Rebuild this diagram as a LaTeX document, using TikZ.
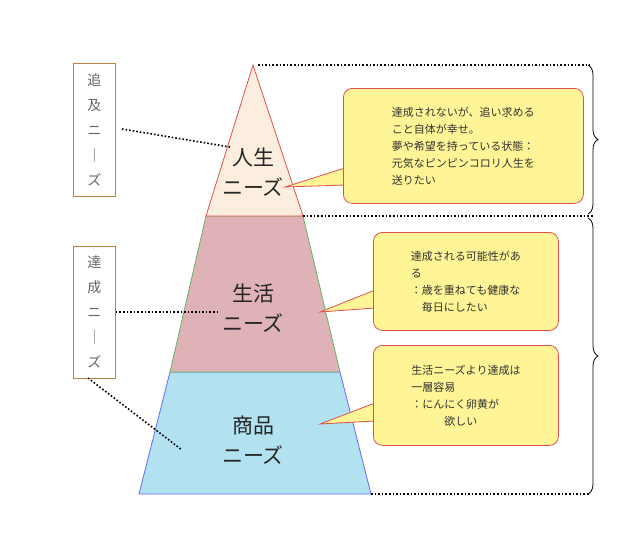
\documentclass[tikz,border=0pt]{standalone}
\usepackage{fontspec}
\setmainfont{Noto Sans CJK JP}
\usetikzlibrary{decorations.pathreplacing}
\definecolor{peach}{RGB}{252,238,222}
\definecolor{rose}{RGB}{222,178,182}
\definecolor{aqua}{RGB}{178,226,240}
\definecolor{note}{RGB}{255,244,150}
\definecolor{edge}{RGB}{222,80,80}
\definecolor{frame}{RGB}{185,130,60}
\tikzset{
  notebox/.style={draw=edge,fill=note,rounded corners=9pt,line width=0.8pt,
    inner sep=6pt,align=left,font=\fontsize{11}{17}\selectfont,anchor=north west,text=black!80},
  sidebox/.style={draw=frame,line width=0.8pt,minimum width=42pt,align=center,
    font=\fontsize{14}{25}\selectfont,text=black!60,anchor=north west,inner sep=0pt},
  layer/.style={font=\fontsize{21}{30}\selectfont,align=center,text=black!85},
  dots/.style={dotted,line width=1.6pt},
}
\begin{document}
\begin{tikzpicture}[x=1pt,y=-1pt]
  \useasboundingbox (0,0) rectangle (622,539);
  % pyramid
  \filldraw[fill=aqua,draw=blue!60,line width=0.8pt] (170,372) -- (139,494) -- (371,494) -- (340,372) -- cycle;
  \filldraw[fill=rose,draw=green!50!black!60,line width=0.8pt] (206,216) -- (170,372) -- (340,372) -- (303,216) -- cycle;
  \filldraw[fill=peach,draw=edge,line width=0.8pt] (253,65) -- (206,216) -- (303,216) -- cycle;
  \node[layer] (life) at (253,172) {人生\\ニーズ};
  \node[layer] (living) at (253,308) {生活\\ニーズ};
  \node[layer] (goods) at (253,440) {商品\\ニーズ};
  % side labels
  \node[sidebox,minimum height=133pt] (pursue) at (73,63) {追\\及\\ニ\\｜\\ズ};
  \node[sidebox,minimum height=132pt] (reach) at (73,246) {達\\成\\ニ\\｜\\ズ};
  \coordinate (p1) at (230,147);
  \coordinate (p2) at (218,312);
  \coordinate (p3) at (182,450);
  \draw[dots] (122,129) -- (p1);
  \draw[dots] (reach.east |- p2) -- (p2);
  \draw[dots] (88,378) -- (p3);
  % dotted guides
  \draw[dots] (258,65) -- (590,65);
  \draw[dots] (303,216) -- (593,216);
  \draw[dots] (371,494) -- (590,494);
  % braces
  \draw[line width=0.8pt,decorate,decoration={brace,amplitude=10pt,aspect=0.5}] (588,65) -- (588,214);
  \draw[line width=0.8pt,decorate,decoration={brace,amplitude=10pt,aspect=0.5}] (588,218) -- (588,494);
  % callouts
  \filldraw[fill=note,draw=edge,line width=0.8pt] (285,187) -- (345,168) -- (345,185) -- cycle;
  \node[notebox,minimum width=240pt,minimum height=115pt] (n1) at (343,88)
    {達成されないが、追い求める\\こと自体が幸せ。\\夢や希望を持っている状態：\\元気なピンピンコロリ人生を\\送りたい};
  \fill[note] (344,168.5) -- (344,184.5) -- (348,184.5) -- (348,168.5) -- cycle;
  \filldraw[fill=note,draw=edge,line width=0.8pt] (320,312) -- (375,290) -- (375,308) -- cycle;
  \node[notebox,minimum width=185pt,minimum height=98pt] (n2) at (373,232)
    {達成される可能性があ\\る\\：歳を重ねても健康な\\\quad 毎日にしたい};
  \fill[note] (374,290.5) -- (374,307.5) -- (378,307.5) -- (378,290.5) -- cycle;
  \filldraw[fill=note,draw=edge,line width=0.8pt] (320,424) -- (375,403) -- (375,421) -- cycle;
  \node[notebox,minimum width=185pt,minimum height=100pt] (n3) at (373,345)
    {生活ニーズより達成は\\一層容易\\：にんにく卵黄が\\\qquad\quad 欲しい};
  \fill[note] (374,403.5) -- (374,420.5) -- (378,420.5) -- (378,403.5) -- cycle;
\end{tikzpicture}
\end{document}
